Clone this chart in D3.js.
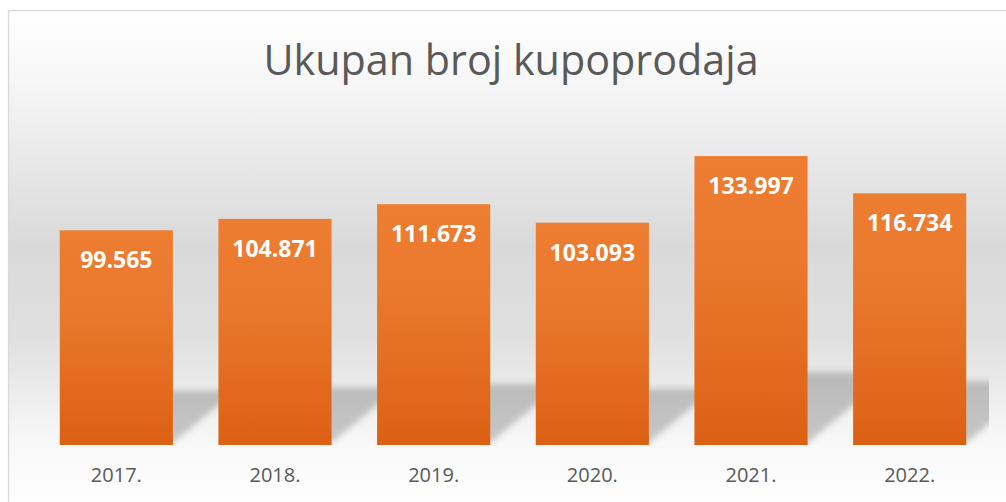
<!DOCTYPE html>
<html>
<head>
<meta charset="utf-8">
<script src="https://cdn.jsdelivr.net/npm/d3@7"></script>
<style>
  html, body { margin: 0; padding: 0; background: #ffffff; }
  svg { display: block; }
</style>
</head>
<body>
<svg id="chart" width="1006" height="502"></svg>
<script>
const titleText = "Ukupan broj kupoprodaja";
const categories = ["2017.", "2018.", "2019.", "2020.", "2021.", "2022."];
const values = [99565, 104871, 111673, 103093, 133997, 116734];
const valueLabels = ["99.565", "104.871", "111.673", "103.093", "133.997", "116.734"];

const W = 1006, H = 502;
const plot = { left: 37, right: 989, top: 100, bottom: 445 };

const svg = d3.select("#chart");
const defs = svg.append("defs");

// background gradient
const bg = defs.append("linearGradient").attr("id", "bgGrad")
  .attr("gradientUnits", "userSpaceOnUse")
  .attr("x1", 0).attr("y1", 10).attr("x2", 0).attr("y2", 502);
[[0, "#ffffff"], [0.15, "#f6f6f6"], [0.48, "#d9d9d9"], [0.67, "#e0e0e0"],
 [0.77, "#ebebeb"], [0.88, "#f8f8f8"], [1, "#fefefe"]].forEach(s =>
  bg.append("stop").attr("offset", s[0]).attr("stop-color", s[1]));

// bar gradient
const bgBar = defs.append("linearGradient").attr("id", "barGrad")
  .attr("x1", 0).attr("y1", 0).attr("x2", 0).attr("y2", 1);
[[0, "#ED7D31"], [0.35, "#EB792D"], [1, "#DC6014"]].forEach(s =>
  bgBar.append("stop").attr("offset", s[0]).attr("stop-color", s[1]));

// shadow blur
defs.append("filter").attr("id", "blur")
  .attr("x", "-20%").attr("y", "-20%").attr("width", "140%").attr("height", "140%")
  .append("feGaussianBlur").attr("stdDeviation", 3);

defs.append("clipPath").attr("id", "plotClip")
  .append("rect")
  .attr("x", plot.left).attr("y", 0)
  .attr("width", plot.right - plot.left).attr("height", plot.bottom);

// chart area with border
svg.append("rect")
  .attr("x", 8.5).attr("y", 10.5)
  .attr("width", W + 10).attr("height", H + 10)
  .attr("fill", "url(#bgGrad)")
  .attr("stroke", "#d9d9d9").attr("stroke-width", 1.5);

// title
svg.append("text")
  .attr("x", 511).attr("y", 75)
  .attr("text-anchor", "middle")
  .attr("font-family", "'Open Sans', sans-serif")
  .attr("font-size", 41.3)
  .attr("fill", "#595959")
  .text(titleText);

const x = d3.scaleBand()
  .domain(categories)
  .range([plot.left, plot.right])
  .paddingInner(0.287)
  .paddingOuter(0.1435);

const y = d3.scaleLinear()
  .domain([0, 160000])
  .range([plot.bottom, plot.top]);

const data = categories.map((c, i) => ({ cat: c, value: values[i], label: valueLabels[i] }));

// perspective shadows
const shadowG = svg.append("g").attr("clip-path", "url(#plotClip)");
shadowG.append("g").attr("filter", "url(#blur)")
  .selectAll("path").data(data).join("path")
  .attr("d", d => {
    const x0 = x(d.cat), x1 = x0 + x.bandwidth();
    const b = y(0) - 2, h = y(0) - y(d.value);
    const sh = h * 0.245, dx = sh * 1.2;
    return `M${x0},${b}L${x1},${b}L${x1 + dx},${b - sh}L${x0 + dx},${b - sh}Z`;
  })
  .attr("fill", "#000").attr("fill-opacity", 0.2);

// bars
svg.append("g").selectAll("rect").data(data).join("rect")
  .attr("x", d => x(d.cat))
  .attr("y", d => y(d.value))
  .attr("width", x.bandwidth())
  .attr("height", d => y(0) - y(d.value))
  .attr("fill", "url(#barGrad)");

// value labels
svg.append("g").selectAll("text").data(data).join("text")
  .attr("x", d => x(d.cat) + x.bandwidth() / 2)
  .attr("y", d => y(d.value) + 38)
  .attr("text-anchor", "middle")
  .attr("font-family", "'Open Sans', sans-serif")
  .attr("font-weight", "bold")
  .attr("font-size", 23)
  .attr("fill", "#ffffff")
  .text(d => d.label);

// x axis
const xAxis = svg.append("g")
  .attr("transform", `translate(0,${plot.bottom})`)
  .call(d3.axisBottom(x).tickSize(0).tickPadding(0));
xAxis.select(".domain").remove();
xAxis.selectAll("text")
  .attr("y", 37)
  .attr("dy", 0)
  .attr("font-family", "'Open Sans', sans-serif")
  .attr("font-size", 20)
  .attr("fill", "#595959");
</script>
</body>
</html>
